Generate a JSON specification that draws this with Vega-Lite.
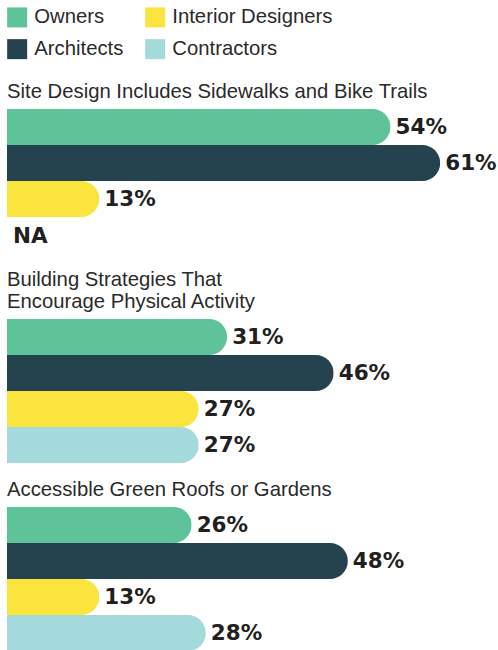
{
  "$schema": "https://vega.github.io/schema/vega-lite/v6.json",
  "padding": {"left": 7, "top": 7, "right": 0, "bottom": 0},
  "autosize": {"type": "pad"},
  "background": "white",
  "spacing": 16,
  "datasets": {
    "d": [
      {"question": "Site", "group": "Owners", "value": 0.54},
      {"question": "Site", "group": "Architects", "value": 0.61},
      {"question": "Site", "group": "Interior Designers", "value": 0.13},
      {"question": "Site", "group": "Contractors", "value": null},
      {"question": "Building", "group": "Owners", "value": 0.31},
      {"question": "Building", "group": "Architects", "value": 0.46},
      {"question": "Building", "group": "Interior Designers", "value": 0.27},
      {"question": "Building", "group": "Contractors", "value": 0.27},
      {"question": "Roofs", "group": "Owners", "value": 0.26},
      {"question": "Roofs", "group": "Architects", "value": 0.48},
      {"question": "Roofs", "group": "Interior Designers", "value": 0.13},
      {"question": "Roofs", "group": "Contractors", "value": 0.28}
    ]
  },
  "config": {
    "view": {"stroke": null},
    "font": "Liberation Sans",
    "title": {"anchor": "start", "fontSize": 20.3, "fontWeight": "normal", "color": "#2a2a2a", "offset": 7, "baseline": "bottom", "lineHeight": 22, "font": "Liberation Sans", "frame": "group"},
    "legend": {"orient": "top", "columns": 2, "symbolType": "square", "symbolSize": 400, "labelFontSize": 20.3, "labelFont": "Liberation Sans", "labelColor": "#2a2a2a", "labelOffset": 7, "rowPadding": 11, "columnPadding": 21, "symbolStrokeWidth": 0, "symbolOpacity": 1, "offset": 21, "labelLimit": 300}
  },
  "vconcat": [
    {
      "title": "Site Design Includes Sidewalks and Bike Trails",
      "width": 490, "height": 144,
      "data": {"name": "d"},
      "transform": [{"filter": "datum.question === 'Site'"}],
      "encoding": {"y": {"field": "group", "type": "nominal", "axis": null, "scale": {"domain": ["Owners", "Architects", "Interior Designers", "Contractors"], "paddingInner": 0, "paddingOuter": 0}}},
      "layer": [
        {"mark": {"type": "bar", "cornerRadiusEnd": 18},
         "encoding": {"x": {"field": "value", "type": "quantitative", "axis": null, "scale": {"domain": [0, 0.69], "nice": false}},
                      "color": {"field": "group", "type": "nominal", "title": null, "scale": {"domain": ["Owners", "Interior Designers", "Architects", "Contractors"], "range": ["#5fc39a", "#fbe43d", "#25434f", "#a4dadc"]}}}},
        {"mark": {"type": "text", "align": "left", "baseline": "middle", "dx": 5, "dy": 1, "font": "DejaVu Sans", "fontWeight": "bold", "fontSize": 21.5, "color": "#231f20"},
         "encoding": {"x": {"field": "value", "type": "quantitative"}, "text": {"field": "value", "type": "quantitative", "format": ".0%"}}},
        {"transform": [{"filter": "datum.value === null"}],
         "mark": {"type": "text", "align": "left", "baseline": "middle", "dx": 6, "dy": 2, "font": "DejaVu Sans", "fontWeight": "bold", "fontSize": 21.5, "color": "#231f20"},
         "encoding": {"x": {"datum": 0, "type": "quantitative"}, "text": {"value": "NA"}}}
      ]
    },
    {
      "title": {"text": ["Building Strategies That", "Encourage Physical Activity"]},
      "width": 490, "height": 144,
      "data": {"name": "d"},
      "transform": [{"filter": "datum.question === 'Building'"}],
      "encoding": {"y": {"field": "group", "type": "nominal", "axis": null, "scale": {"domain": ["Owners", "Architects", "Interior Designers", "Contractors"], "paddingInner": 0, "paddingOuter": 0}}},
      "layer": [
        {"mark": {"type": "bar", "cornerRadiusEnd": 18},
         "encoding": {"x": {"field": "value", "type": "quantitative", "axis": null, "scale": {"domain": [0, 0.69], "nice": false}},
                      "color": {"field": "group", "type": "nominal", "title": null, "scale": {"domain": ["Owners", "Interior Designers", "Architects", "Contractors"], "range": ["#5fc39a", "#fbe43d", "#25434f", "#a4dadc"]}}}},
        {"mark": {"type": "text", "align": "left", "baseline": "middle", "dx": 5, "dy": 1, "font": "DejaVu Sans", "fontWeight": "bold", "fontSize": 21.5, "color": "#231f20"},
         "encoding": {"x": {"field": "value", "type": "quantitative"}, "text": {"field": "value", "type": "quantitative", "format": ".0%"}}}
      ]
    },
    {
      "title": "Accessible Green Roofs or Gardens",
      "width": 490, "height": 144,
      "data": {"name": "d"},
      "transform": [{"filter": "datum.question === 'Roofs'"}],
      "encoding": {"y": {"field": "group", "type": "nominal", "axis": null, "scale": {"domain": ["Owners", "Architects", "Interior Designers", "Contractors"], "paddingInner": 0, "paddingOuter": 0}}},
      "layer": [
        {"mark": {"type": "bar", "cornerRadiusEnd": 18},
         "encoding": {"x": {"field": "value", "type": "quantitative", "axis": null, "scale": {"domain": [0, 0.69], "nice": false}},
                      "color": {"field": "group", "type": "nominal", "title": null, "scale": {"domain": ["Owners", "Interior Designers", "Architects", "Contractors"], "range": ["#5fc39a", "#fbe43d", "#25434f", "#a4dadc"]}}}},
        {"mark": {"type": "text", "align": "left", "baseline": "middle", "dx": 5, "dy": 1, "font": "DejaVu Sans", "fontWeight": "bold", "fontSize": 21.5, "color": "#231f20"},
         "encoding": {"x": {"field": "value", "type": "quantitative"}, "text": {"field": "value", "type": "quantitative", "format": ".0%"}}}
      ]
    }
  ]
}
